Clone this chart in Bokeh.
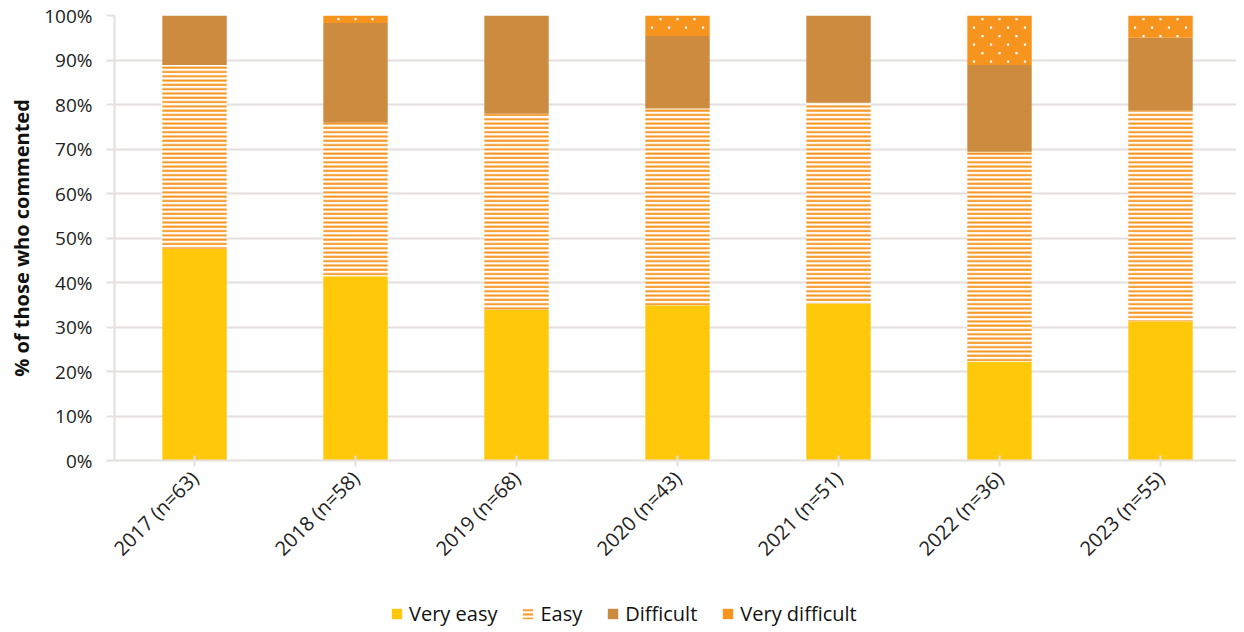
from bokeh.plotting import figure
from bokeh.layouts import column
from bokeh.models import (Range1d, FixedTicker, PrintfTickFormatter, Legend, LegendItem,
                          ColumnDataSource)
from bokeh.embed import file_html
from bokeh.resources import INLINE
import math

# ---- data ----
categories = ["2017 (n=63)", "2018 (n=58)", "2019 (n=68)", "2020 (n=43)",
              "2021 (n=51)", "2022 (n=36)", "2023 (n=55)"]
very_easy = [47.6, 41.4, 33.8, 34.9, 35.3, 22.2, 31.3]
easy = [41.3, 34.5, 44.1, 44.2, 45.1, 47.2, 47.3]
difficult = [11.1, 22.4, 22.1, 16.3, 19.6, 19.5, 16.4]
very_difficult = [0.0, 1.7, 0.0, 4.6, 0.0, 11.1, 5.0]
series_names = ["Very easy", "Easy", "Difficult", "Very difficult"]
y_ticks = [0, 10, 20, 30, 40, 50, 60, 70, 80, 90, 100]

FONT = "Open Sans"
GRID = "#E4DFDC"
C_VE, C_E, C_D, C_VD = "#FFC90A", "#F7941D", "#CD8B3F", "#F7941D"

# ---- geometry of the plot frame ----
FRAME_W, FRAME_H = 1122, 445
X0, X1 = -0.497, 6.472
PX_PER_X = FRAME_W / (X1 - X0)
PX_PER_Y = FRAME_H / 100.0
W = 0.4

x = list(range(len(categories)))
b1 = [0] * len(x)
t1 = [b + v for b, v in zip(b1, very_easy)]
t2 = [b + v for b, v in zip(t1, easy)]
t3 = [b + v for b, v in zip(t2, difficult)]
t4 = [b + v for b, v in zip(t3, very_difficult)]

src = ColumnDataSource(dict(x=x, b1=b1, t1=t1, t2=t2, t3=t3, t4=t4))

# dot pattern for the "Very difficult" segments, derived from the segment bounds
dot_x, dot_y = [], []
for xi, lo, hi in zip(x, t3, t4):
    if hi - lo <= 0:
        continue
    k = 0
    while True:
        yy = hi - (3.7 + 8.5 * k) / PX_PER_Y
        if yy <= lo + 1.0 / PX_PER_Y:
            break
        offs = [-17, 0, 17] if k % 2 == 0 else [-25.5, -8.5, 8.5, 25.5]
        for o in offs:
            dot_x.append(xi + o / PX_PER_X)
            dot_y.append(yy)
        k += 1

p = figure(width=1236, height=600, output_backend="svg", toolbar_location=None,
           x_range=Range1d(X0, X1), y_range=Range1d(0, 100),
           min_border_left=114, min_border_right=0, min_border_top=15,
           min_border_bottom=140)
p.outline_line_color = None
p.background_fill_color = "white"

STYLES = [
    dict(fill_color=C_VE, line_color=None),
    dict(fill_color="white", line_color=None, hatch_pattern="horizontal_line",
         hatch_color=C_E, hatch_scale=4.3, hatch_weight=2),
    dict(fill_color=C_D, line_color=None),
    dict(fill_color=C_VD, line_color=None),
]
bounds = [("b1", "t1"), ("t1", "t2"), ("t2", "t3"), ("t3", "t4")]
for st, (b, t) in zip(STYLES, bounds):
    p.vbar(x="x", bottom=b, top=t, width=W, source=src, **st)
p.scatter(x=dot_x, y=dot_y, marker="square", size=2.2, fill_color="white", line_color=None)

# axes
p.xgrid.grid_line_color = None
p.ygrid.grid_line_color = GRID
p.ygrid.grid_line_width = 2
p.ygrid.ticker = FixedTicker(ticks=y_ticks)

p.yaxis.ticker = FixedTicker(ticks=y_ticks)
p.yaxis.formatter = PrintfTickFormatter(format="%d%%")
p.yaxis.axis_line_color = GRID
p.yaxis.axis_line_width = 2
p.yaxis.major_tick_line_color = GRID
p.yaxis.major_tick_line_width = 2
p.yaxis.major_tick_out = 8
p.yaxis.major_tick_in = 0
p.yaxis.minor_tick_line_color = None
p.yaxis.major_label_standoff = 14
p.yaxis.major_label_text_font = FONT
p.yaxis.major_label_text_font_size = "19px"
p.yaxis.major_label_text_color = "#222222"
p.yaxis.axis_label = "% of those who commented"
p.yaxis.axis_label_text_font = FONT
p.yaxis.axis_label_text_font_style = "bold"
p.yaxis.axis_label_text_font_size = "20px"
p.yaxis.axis_label_text_color = "#111111"
p.yaxis.axis_label_standoff = 6

p.xaxis.ticker = FixedTicker(ticks=x)
p.xaxis.major_label_overrides = {i: c for i, c in zip(x, categories)}
p.xaxis.major_label_orientation = math.pi / 4
p.xaxis.axis_line_color = GRID
p.xaxis.axis_line_width = 2
p.xaxis.major_tick_line_color = GRID
p.xaxis.major_tick_line_width = 2
p.xaxis.major_tick_out = 6
p.xaxis.major_tick_in = 5
p.xaxis.minor_tick_line_color = None
p.xaxis.major_label_standoff = 8
p.xaxis.major_label_text_font = FONT
p.xaxis.major_label_text_font_size = "20px"
p.xaxis.major_label_text_color = "#222222"

# ---- legend strip (separate small figure under the chart) ----
q = figure(width=1236, height=29, output_backend="svg", toolbar_location=None,
           x_range=Range1d(0, 1), y_range=Range1d(0, 1),
           x_axis_location=None, y_axis_location=None,
           min_border_left=0, min_border_right=0, min_border_top=0, min_border_bottom=0)
q.outline_line_color = None
q.xgrid.visible = False
q.ygrid.visible = False
leg_items = []
for name, st in zip(series_names, STYLES):
    r = q.vbar(x=[5], top=[5], width=0.1, **st)
    leg_items.append(LegendItem(label=name, renderers=[r]))

legend = Legend(items=leg_items, orientation="horizontal", location=(276, 2),
                glyph_width=13, glyph_height=13, label_standoff=6, spacing=24,
                padding=0, margin=0, border_line_color=None,
                background_fill_alpha=0,
                label_text_font=FONT, label_text_font_size="20px",
                label_text_color="#111111")
q.add_layout(legend, "center")

layout = column(p, q, spacing=0)
open("out.html", "w").write(file_html(layout, INLINE))
